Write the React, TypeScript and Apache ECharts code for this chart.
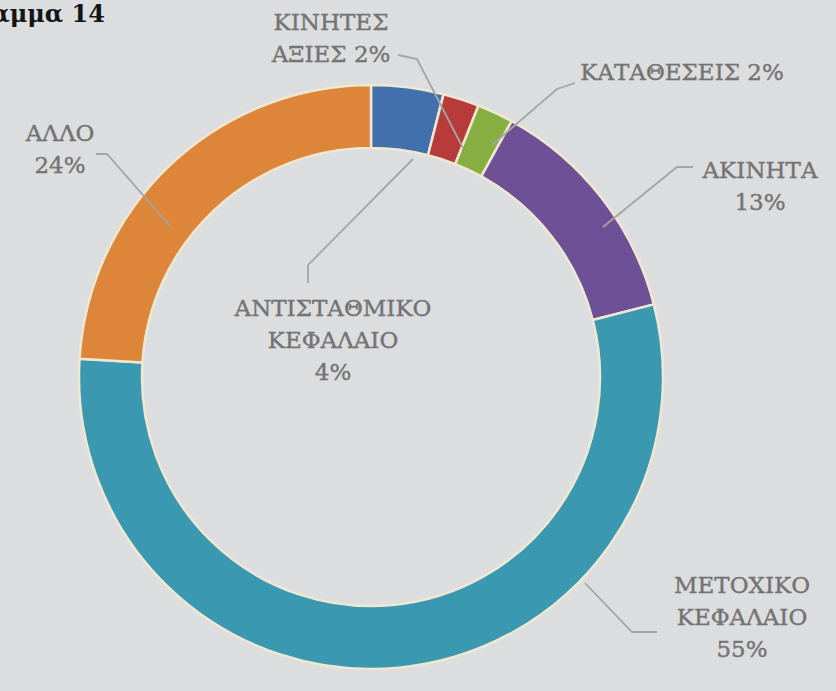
import React, { useEffect, useRef } from "react";
import * as echarts from "echarts";

const categories = [
  "ΑΝΤΙΣΤΑΘΜΙΚΟ ΚΕΦΑΛΑΙΟ",
  "ΚΙΝΗΤΕΣ ΑΞΙΕΣ",
  "ΚΑΤΑΘΕΣΕΙΣ",
  "ΑΚΙΝΗΤΑ",
  "ΜΕΤΟΧΙΚΟ ΚΕΦΑΛΑΙΟ",
  "ΑΛΛΟ",
];
const values = [4, 2, 2, 13, 55, 24];
const labelTexts = [
  "ΑΝΤΙΣΤΑΘΜΙΚΟ\nΚΕΦΑΛΑΙΟ\n4%",
  "ΚΙΝΗΤΕΣ\nΑΞΙΕΣ 2%",
  "ΚΑΤΑΘΕΣΕΙΣ 2%",
  "ΑΚΙΝΗΤΑ\n13%",
  "ΜΕΤΟΧΙΚΟ\nΚΕΦΑΛΑΙΟ\n55%",
  "ΑΛΛΟ\n24%",
];
const colors = ["#4170ad", "#b83b3c", "#86ae40", "#6d5096", "#3b98b1", "#dd8538"];
const titleText = "Διάγραμμα 14";

// label layout (text centres and leader-line points)
const labelPos: number[][] = [
  [333, 340],
  [331, 38],
  [682, 72],
  [760, 186],
  [742, 617],
  [60, 149],
];
const linePts: number[][][] = [
  [[413, 159], [308, 265], [308, 283]],
  [[463, 148], [417, 59], [398, 55]],
  [[492, 145], [557, 89], [575, 83]],
  [[603, 227], [677, 167], [693, 167]],
  [[585, 583], [632, 632], [657, 632]],
  [[170, 226], [107, 154], [96, 154]],
];

export default function App() {
  const ref = useRef<HTMLDivElement>(null);
  useEffect(() => {
    if (!ref.current) return;
    const chart = echarts.init(ref.current, undefined, { renderer: "svg" });
    const font = "'DejaVu Serif', serif";
    chart.setOption({
      animation: false,
      backgroundColor: "#dcdddf",
      graphic: [
        {
          type: "text",
          x: 105,
          y: 1,
          style: {
            text: titleText,
            align: "right",
            verticalAlign: "top",
            font: "bold 24px " + font,
            fill: "#151515",
          },
        },
        ...linePts.map((pts) => ({
          type: "polyline",
          z: 100,
          silent: true,
          shape: { points: pts },
          style: { stroke: "#a5a5a5", lineWidth: 1.8, fill: "none" },
        })),
      ],
      series: [
        {
          type: "pie",
          center: [371, 377],
          radius: [229, 292],
          startAngle: 90,
          clockwise: true,
          silent: true,
          itemStyle: { borderColor: "#eee8d2", borderWidth: 2.5 },
          emphasis: { disabled: true },
          label: {
            show: true,
            position: "outside",
            formatter: (p: any) => labelTexts[p.dataIndex],
            color: "#737373",
            fontFamily: font,
            fontSize: 23,
            lineHeight: 32,
            align: "center",
            overflow: "none",
            textBorderColor: "#737373",
            textBorderWidth: 0.4,
          },
          labelLine: { show: false },
          labelLayout: (params: any) => {
            const i = params.dataIndex;
            return {
              x: labelPos[i][0],
              y: labelPos[i][1],
              align: "center",
              verticalAlign: "middle",
            };
          },
          data: categories.map((name, i) => ({
            name,
            value: values[i],
            itemStyle: { color: colors[i] },
          })),
        },
      ],
    });
    return () => chart.dispose();
  }, []);
  return (
    <div
      ref={ref}
      style={{ position: "absolute", left: 0, top: 0, width: 836, height: 691 }}
    />
  );
}
